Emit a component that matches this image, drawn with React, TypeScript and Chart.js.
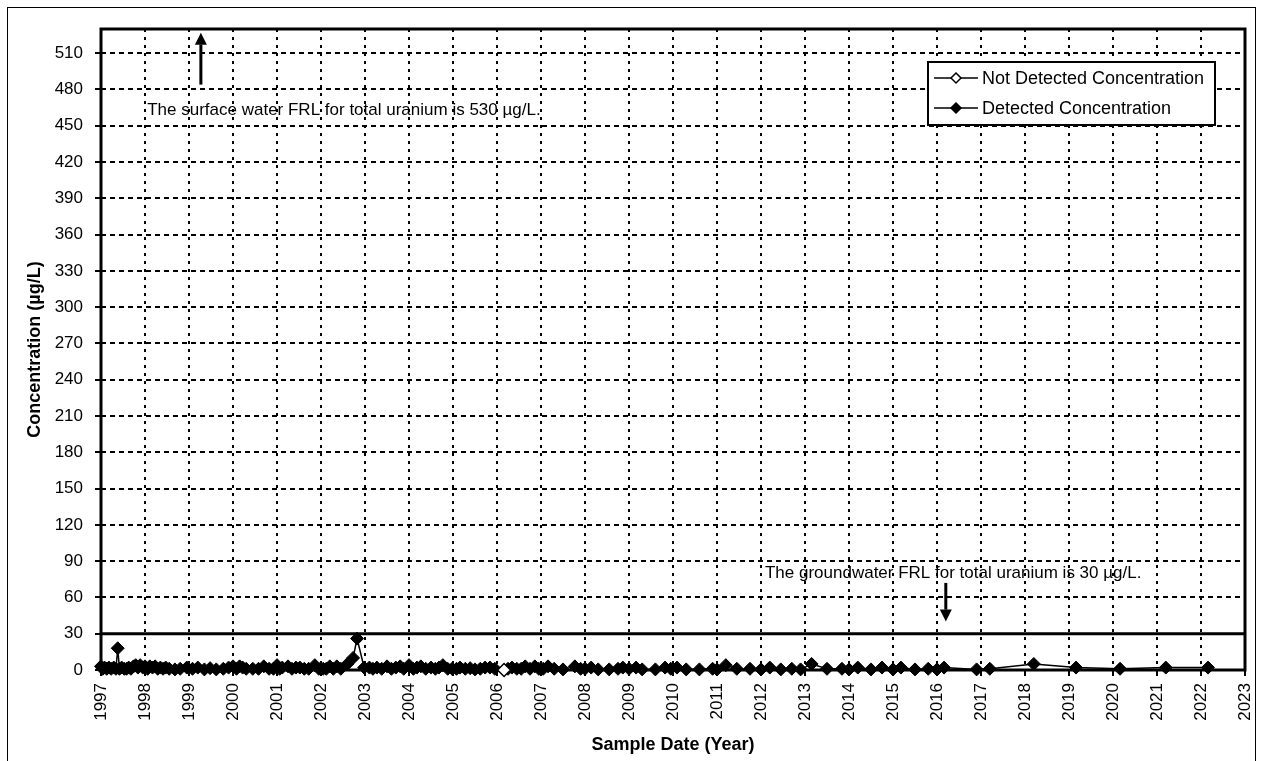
import React, { useEffect, useRef } from "react";
import { Chart, registerables } from "chart.js";

Chart.register(...registerables);

const yearTicks = [1997, 1998, 1999, 2000, 2001, 2002, 2003, 2004, 2005, 2006, 2007, 2008, 2009, 2010, 2011, 2012, 2013, 2014, 2015, 2016, 2017, 2018, 2019, 2020, 2021, 2022, 2023];
const concentrationTicks = [0, 30, 60, 90, 120, 150, 180, 210, 240, 270, 300, 330, 360, 390, 420, 450, 480, 510];

const detectedDates = [
  1997.0, 1997.04, 1997.08, 1997.13, 1997.18, 1997.23, 1997.29, 1997.34, 1997.38, 1997.42, 1997.47, 1997.53,
  1997.58, 1997.63, 1997.68, 1997.74, 1997.79, 1997.84, 1997.89, 1997.95, 1998.0, 1998.06, 1998.11, 1998.17,
  1998.23, 1998.29, 1998.35, 1998.41, 1998.47, 1998.55, 1998.68, 1998.8, 1998.95, 1999.08, 1999.2, 1999.35,
  1999.48, 1999.62, 1999.78, 1999.9, 2000.0, 2000.08, 2000.15, 2000.22, 2000.3, 2000.45, 2000.58, 2000.7,
  2000.82, 2000.92, 2001.0, 2001.06, 2001.12, 2001.25, 2001.34, 2001.43, 2001.52, 2001.62, 2001.72, 2001.86,
  2001.95, 2002.05, 2002.12, 2002.2, 2002.28, 2002.36, 2002.45, 2002.6, 2002.73, 2002.82, 2002.98, 2003.1,
  2003.18, 2003.27, 2003.38, 2003.5, 2003.6, 2003.7, 2003.8, 2003.88, 2004.0, 2004.1, 2004.18, 2004.27,
  2004.38, 2004.5, 2004.6, 2004.68, 2004.77, 2004.88, 2004.98, 2005.08, 2005.16, 2005.28, 2005.39, 2005.5,
  2005.62, 2005.73, 2005.84, 2005.95, 2006.25, 2006.34, 2006.45, 2006.55, 2006.64, 2006.75, 2006.86, 2006.95,
  2007.05, 2007.16, 2007.3, 2007.5, 2007.77, 2007.9, 2008.0, 2008.14, 2008.3, 2008.55, 2008.75, 2008.86,
  2009.0, 2009.16, 2009.3, 2009.6, 2009.82, 2009.95, 2010.09, 2010.3, 2010.6, 2010.9, 2011.0, 2011.2,
  2011.45, 2011.75, 2012.0, 2012.2, 2012.45, 2012.7, 2012.9, 2013.15, 2013.5, 2013.84, 2014.0, 2014.2,
  2014.5, 2014.75, 2015.0, 2015.18, 2015.5, 2015.8, 2016.0, 2016.16, 2016.9, 2017.2, 2018.2, 2019.16,
  2020.16, 2021.2, 2022.16,
];
const detectedValues = [
  3, 1, 2, 1, 2, 1, 2, 1, 18, 1, 2, 1,
  1, 2, 1, 3, 4, 2, 4, 2, 3, 1, 3, 2,
  3, 1, 2, 1, 2, 1, 0.5, 1, 2, 1, 2, 0.5,
  1.5, 0.5, 1, 2, 3, 1, 3, 2, 1, 1, 1, 3,
  1, 1, 4, 1, 2, 3, 1, 2, 2, 1, 1, 4,
  1, 1, 1, 3, 1, 3, 1, 5, 10, 26, 2, 2,
  1, 2, 1, 3, 1, 2, 3, 1, 4, 1, 2, 3,
  1, 2, 1, 2, 4, 1, 1, 1, 2, 1, 1.5, 0.5,
  1, 2, 2, 1, 1, 2, 1, 1, 3, 1, 3, 1,
  1, 3, 1, 0.5, 3, 1, 1, 2, 0.5, 0.5, 1, 2,
  1, 2, 0.5, 0.5, 2, 1, 2, 0.5, 0.5, 1, 0.5, 4,
  1, 1, 0.5, 2, 0.5, 1, 0.5, 5, 1, 1, 0.5, 2,
  0.5, 2, 0.5, 2, 0.5, 1, 0.5, 2, 0.5, 1, 5, 2,
  1, 2, 2,
];
const notDetectedDates = [2006.16];
const notDetectedValues = [0];

const surfaceNote = "The surface water FRL for total uranium is 530 µg/L.";
const groundNote = "The groundwater FRL for total uranium is 30 µg/L.";
const groundwaterFRL = 30;
const legendLabels = ["Not Detected Concentration", "Detected Concentration"];
const yTitle = "Concentration (µg/L)";
const xTitle = "Sample Date (Year)";

const FONT = "'Liberation Sans', Arial, sans-serif";

function diamond(ctx: CanvasRenderingContext2D, x: number, y: number, r: number, filled: boolean) {
  ctx.beginPath();
  ctx.moveTo(x, y - r);
  ctx.lineTo(x + r, y);
  ctx.lineTo(x, y + r);
  ctx.lineTo(x - r, y);
  ctx.closePath();
  ctx.fillStyle = filled ? "#000" : "#fff";
  ctx.fill();
  ctx.lineWidth = 1.5;
  ctx.strokeStyle = "#000";
  ctx.stroke();
}

function arrow(ctx: CanvasRenderingContext2D, x: number, yFrom: number, yTo: number) {
  const dir = yTo < yFrom ? -1 : 1;
  const head = 12;
  ctx.save();
  ctx.strokeStyle = "#000";
  ctx.fillStyle = "#000";
  ctx.lineWidth = 3;
  ctx.beginPath();
  ctx.moveTo(x, yFrom);
  ctx.lineTo(x, yTo - dir * head);
  ctx.stroke();
  ctx.beginPath();
  ctx.moveTo(x, yTo);
  ctx.lineTo(x - 6, yTo - dir * head);
  ctx.lineTo(x + 6, yTo - dir * head);
  ctx.closePath();
  ctx.fill();
  ctx.restore();
}

const overlayPlugin = {
  id: "overlay",
  beforeDatasetsDraw(chart: any) {
    const { ctx, chartArea: ca, scales } = chart;
    const y = scales.y.getPixelForValue(groundwaterFRL);
    ctx.save();
    ctx.strokeStyle = "#000";
    ctx.lineWidth = 3;
    ctx.beginPath();
    ctx.moveTo(ca.left, y);
    ctx.lineTo(ca.right, y);
    ctx.stroke();
    ctx.strokeRect(ca.left, ca.top, ca.right - ca.left, ca.bottom - ca.top);
    ctx.restore();
  },
  afterDraw(chart: any) {
    const { ctx, chartArea: ca, scales } = chart;
    const xs = scales.x;
    const ys = scales.y;
    ctx.save();

    ctx.fillStyle = "#000";
    ctx.font = `17px ${FONT}`;
    ctx.textBaseline = "middle";
    ctx.textAlign = "left";
    ctx.fillText(surfaceNote, xs.getPixelForValue(1998.05), ys.getPixelForValue(463));
    arrow(ctx, xs.getPixelForValue(1999.27), ys.getPixelForValue(484), ys.getPixelForValue(527));
    ctx.fillText(groundNote, xs.getPixelForValue(2012.09), ys.getPixelForValue(80));
    arrow(ctx, xs.getPixelForValue(2016.2), ys.getPixelForValue(72), ys.getPixelForValue(40));

    const lw = 287;
    const lh = 63;
    const lx = ca.right - 30 - lw;
    const ly = ca.top + 33;
    ctx.fillStyle = "#fff";
    ctx.fillRect(lx, ly, lw, lh);
    ctx.strokeStyle = "#000";
    ctx.lineWidth = 2;
    ctx.strokeRect(lx, ly, lw, lh);
    legendLabels.forEach((label, i) => {
      const cy = ly + 16 + i * 30;
      ctx.strokeStyle = "#000";
      ctx.lineWidth = 1.5;
      ctx.beginPath();
      ctx.moveTo(lx + 6, cy);
      ctx.lineTo(lx + 50, cy);
      ctx.stroke();
      diamond(ctx, lx + 28, cy, 5, i === 1);
      ctx.fillStyle = "#000";
      ctx.font = `18px ${FONT}`;
      ctx.textAlign = "left";
      ctx.textBaseline = "middle";
      ctx.fillText(label, lx + 54, cy + 1);
    });

    ctx.fillStyle = "#000";
    ctx.font = `bold 18px ${FONT}`;
    ctx.textAlign = "center";
    ctx.textBaseline = "middle";
    ctx.fillText(xTitle, (ca.left + ca.right) / 2, 737);
    ctx.translate(27, (ca.top + ca.bottom) / 2);
    ctx.rotate(-Math.PI / 2);
    ctx.fillText(yTitle, 0, 0);
    ctx.restore();
  },
};

export default function App() {
  const ref = useRef<HTMLCanvasElement>(null);
  useEffect(() => {
    document.body.style.margin = "0";
    document.body.style.overflow = "hidden";
    const detected = detectedDates.map((d, i) => ({ x: d, y: detectedValues[i] }));
    const notDetected = notDetectedDates.map((d, i) => ({ x: d, y: notDetectedValues[i] }));
    const chart = new Chart(ref.current!, {
      type: "line",
      data: {
        datasets: [
          {
            label: legendLabels[0],
            data: notDetected,
            borderColor: "#000",
            backgroundColor: "#fff",
            borderWidth: 1.5,
            pointStyle: "rectRot",
            pointRadius: 6.5,
            pointBorderWidth: 1.5,
            pointBackgroundColor: "#fff",
            pointBorderColor: "#000",
            clip: false,
            order: 1,
          },
          {
            label: legendLabels[1],
            data: detected,
            borderColor: "#000",
            backgroundColor: "#000",
            borderWidth: 1.5,
            pointStyle: "rectRot",
            pointRadius: 6.5,
            pointBorderWidth: 1,
            pointBackgroundColor: "#000",
            pointBorderColor: "#000",
            clip: false,
            order: 2,
          },
        ],
      },
      options: {
        responsive: false,
        animation: false,
        events: [],
        layout: { padding: { left: 0, right: 10, top: 21, bottom: 0 } },
        plugins: { legend: { display: false }, tooltip: { enabled: false } },
        scales: {
          x: {
            type: "linear",
            min: yearTicks[0],
            max: yearTicks[yearTicks.length - 1],
            afterBuildTicks: (scale: any) => {
              scale.ticks = yearTicks.map((v) => ({ value: v }));
            },
            afterFit: (scale: any) => {
              scale.height = 96;
              scale.paddingLeft = 0;
              scale.paddingRight = 0;
            },
            ticks: {
              autoSkip: false,
              minRotation: 90,
              maxRotation: 90,
              padding: 7,
              color: "#000",
              font: { family: FONT, size: 17 },
              callback: (v: any) => String(v),
            },
            grid: {
              color: "#000",
              lineWidth: 2,
              tickLength: 6,
              tickWidth: 2,
              tickColor: "#000",
              tickBorderDash: [],
            },
            border: { display: false, dash: [3, 5] },
          },
          y: {
            type: "linear",
            min: 0,
            max: 530,
            afterBuildTicks: (scale: any) => {
              scale.ticks = concentrationTicks.map((v) => ({ value: v }));
            },
            afterFit: (scale: any) => {
              scale.width = 93;
              scale.paddingTop = 0;
              scale.paddingBottom = 0;
            },
            ticks: {
              padding: 12,
              color: "#000",
              font: { family: FONT, size: 17 },
              callback: (v: any) => String(v),
            },
            grid: {
              color: "#000",
              lineWidth: 2,
              tickLength: 6,
              tickWidth: 2,
              tickColor: "#000",
              tickBorderDash: [],
            },
            border: { display: false, dash: [5, 4] },
          },
        },
      },
      plugins: [overlayPlugin],
    } as any);
    return () => chart.destroy();
  }, []);
  return (
    <div
      style={{
        position: "absolute",
        left: 7,
        top: 7,
        width: 1249,
        height: 780,
        border: "1px solid #000",
        boxSizing: "border-box",
        background: "#fff",
      }}
    >
      <canvas ref={ref} width={1247} height={758} style={{ display: "block", width: 1247, height: 758 }} />
    </div>
  );
}
